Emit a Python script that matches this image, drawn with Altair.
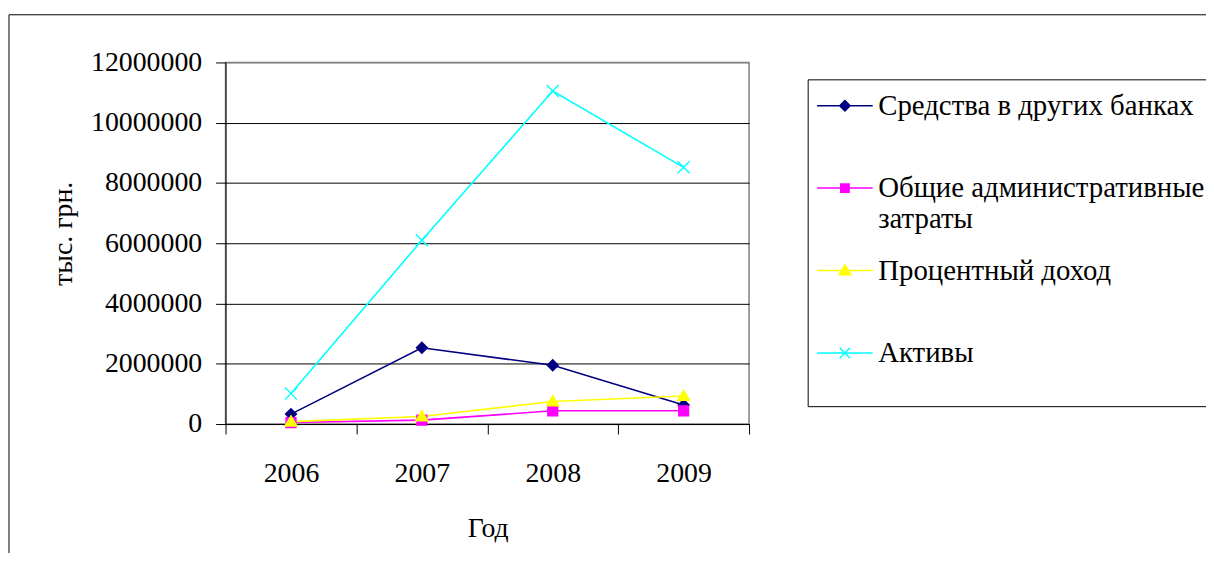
import altair as alt
import pandas as pd

# ---- data ----
years = ["2006", "2007", "2008", "2009"]
series_names = [
    "Средства в других банках",
    "Общие административные затраты",
    "Процентный доход",
    "Активы",
]
sredstva = [330000, 2530000, 1950000, 630000]
admin = [50000, 130000, 440000, 440000]
procent = [80000, 250000, 750000, 930000]
aktivy = [1010000, 6100000, 11050000, 8520000]
y_ticks = [0, 2000000, 4000000, 6000000, 8000000, 10000000, 12000000]

# ---- styles ----
colors = ["#000080", "#FF00FF", "#FFFF00", "#00FFFF"]
marker_paths = [
    "M0,-1L1,0L0,1L-1,0Z",
    "M-0.9,-0.9H0.9V0.9H-0.9Z",
    "M0,-1.05L1.1,0.8L-1.1,0.8Z",
    "M-1.1,-1.1L1.1,1.1M-1.1,1.1L1.1,-1.1",
]
legend_paths = [
    "M-4,0H4M0,-0.75L0.75,0L0,0.75L-0.75,0Z",
    "M-4,0H4M-0.6,-0.6H0.6V0.6H-0.6Z",
    "M-4,0H4M0,-0.8L0.85,0.6L-0.85,0.6Z",
    "M-4,0H4M-0.75,-0.75L0.75,0.75M-0.75,0.75L0.75,-0.75",
]
FONT = "Liberation Serif"
FS = 28
LFS = 29

rows = []
for name, vals in zip(series_names, [sredstva, admin, procent, aktivy]):
    for yr, v in zip(years, vals):
        rows.append({"Год": yr, "series": name, "value": v})
df = pd.DataFrame(rows)

x_enc = alt.X(
    "Год:O",
    sort=years,
    bandPosition=0.5,
    scale=alt.Scale(type="band", paddingInner=0, paddingOuter=0),
    axis=alt.Axis(
        labelAngle=0,
        tickBand="extent",
        tickSize=10,
        tickColor="black",
        domainColor="black",
        labelPadding=26,
        labelFont=FONT,
        labelFontSize=FS,
        labelColor="black",
        grid=False,
        title="Год",
        titleFont=FONT,
        titleFontSize=FS,
        titleFontWeight="normal",
        titleColor="black",
        titleX=264,
        titleY=113,
        titleBaseline="alphabetic",
        titleAlign="center",
    ),
)
y_enc = alt.Y(
    "value:Q",
    scale=alt.Scale(domain=[0, 12000000], nice=False),
    axis=alt.Axis(
        values=y_ticks,
        format="d",
        tickSize=10,
        tickColor="black",
        domainColor="black",
        labelPadding=14,
        labelFont=FONT,
        labelFontSize=FS,
        labelColor="black",
        grid=True,
        gridColor={"condition": {"test": "datum.value === 12000000", "value": "#808080"}, "value": "black"},
        gridWidth=1,
        title="тыс. грн.",
        titleFont=FONT,
        titleFontSize=FS,
        titleFontWeight="normal",
        titleColor="black",
        titleAngle=270,
        titleX=-163,
        titleY=172,
        titleAlign="center",
        titleBaseline="middle",
    ),
)

color_scale = alt.Scale(domain=series_names, range=colors)

base = alt.Chart(df)

frame = alt.Chart(alt.Data(values=[{"f": 1}])).mark_rect(
    fillOpacity=0, stroke="black", strokeWidth=1
).encode(
    x=alt.value(-218), y=alt.value(-48), x2=alt.value(1200), y2=alt.value(800)
)

lines = base.mark_line(strokeWidth=1.6).encode(
    x=x_enc,
    y=y_enc,
    stroke=alt.Stroke("series:N", scale=color_scale, legend=None),
)

points = base.mark_point(filled=True, size=121, strokeWidth=1.4, opacity=1).encode(
    x=x_enc,
    y=y_enc,
    fill=alt.Fill("series:N", scale=color_scale, legend=None),
    stroke=alt.Stroke("series:N", scale=color_scale, legend=None),
    shape=alt.Shape("series:N", scale=alt.Scale(domain=series_names, range=marker_paths), legend=None),
)

multi = "Общие административные затраты"
label_expr = (
    "datum.label == '" + multi + "' ? ['Общие административные', 'затраты'] : datum.label"
)
leg = alt.Legend(
    title="\u00a0",
    titleOrient="bottom",
    titleFontSize=22,
    titlePadding=5,
    orient="none",
    legendX=586,
    legendY=17,
    padding=12,
    fillColor="white",
    strokeColor="black",
    symbolSize=196,
    symbolStrokeWidth=1.5,
    symbolOffset=11,
    labelOffset=19,
    labelFont=FONT,
    labelFontSize=LFS,
    labelColor="black",
    labelLimit=1000,
    rowPadding=22,
    gridAlign="all",
    labelExpr=label_expr,
)

legend_layer = base.transform_filter("false").mark_point(
    filled=True, size=196, strokeWidth=1.5, opacity=1
).encode(
    fill=alt.Fill("series:N", scale=color_scale, legend=leg),
    stroke=alt.Stroke("series:N", scale=color_scale, legend=leg),
    shape=alt.Shape("series:N", scale=alt.Scale(domain=series_names, range=legend_paths), legend=leg),
)

chart = (
    alt.layer(frame, lines, points, legend_layer)
    .resolve_scale(fill="independent", stroke="independent", shape="independent")
    .properties(
        width=527,
        height=364,
        autosize=alt.AutoSizeParams(type="none"),
        padding={"left": 219, "top": 53, "right": 460, "bottom": 128},
        background="white",
    )
    .configure(font=FONT)
    .configure_view(fill="#C0C0C0", stroke="#808080", strokeWidth=1.5)
)

chart.save("out.html", embed_options={"renderer": "svg", "actions": False})
